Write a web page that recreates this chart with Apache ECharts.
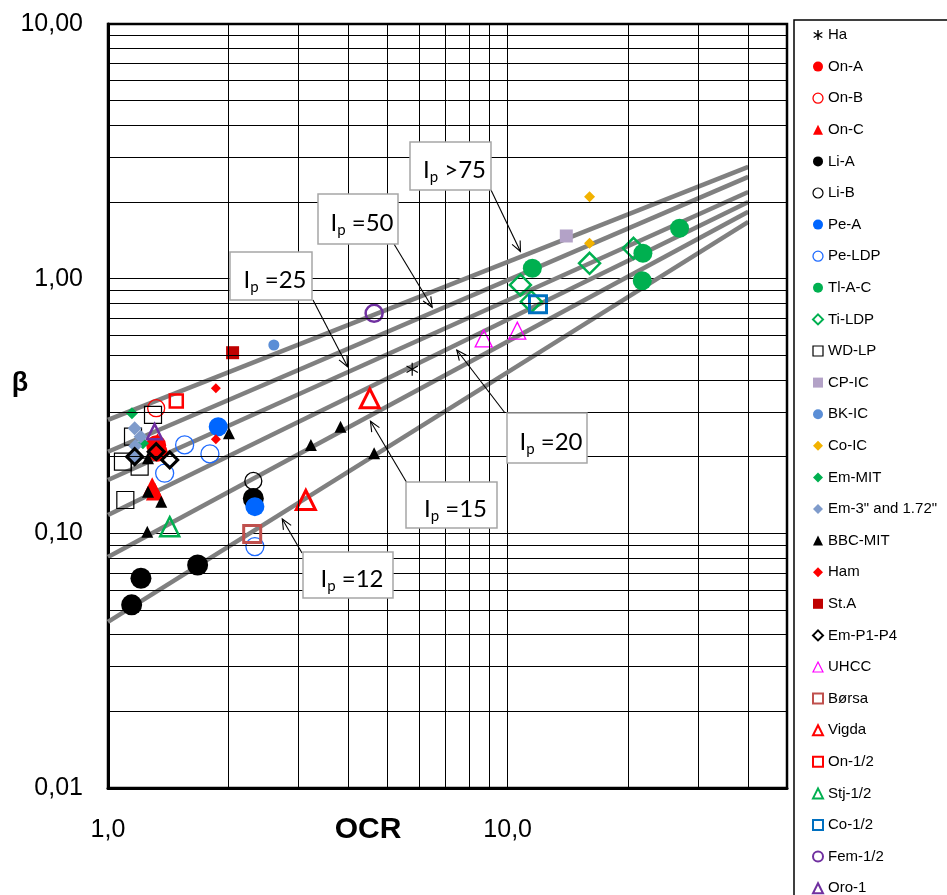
<!DOCTYPE html>
<html><head><meta charset="utf-8">
<script src="https://cdn.jsdelivr.net/npm/echarts@6/dist/echarts.min.js"></script>
<style>html,body{margin:0;padding:0;background:#fff}#c{width:947px;height:895px}</style>
</head><body><div id="c"></div>
<script>
// ---------------- DATA ----------------
// Ip trend lines (straight on log-log), beta at OCR = 1 and OCR = 40
const ipLineNames = ['Ip >75', 'Ip =50', 'Ip =25', 'Ip =20', 'Ip =15', 'Ip =12'];
const ipLineOCR = [1, 40];
const ipBetaAtStart = [0.279, 0.209, 0.162, 0.118, 0.0807, 0.0449];
const ipBetaAtEnd = [2.75, 2.51, 2.19, 2.00, 1.83, 1.67];
// OCR at which each annotation arrow meets its line
const ipArrowOCR = [10.9, 6.57, 4.03, 7.33, 4.47, 2.69];

// Measured points [OCR, beta]
const Ha = [[5.77, 0.441]];
const OnA = [[1.33, 0.209], [1.32, 0.222]];
const OnB = [[1.32, 0.310]];
const OnC = [[1.33, 0.228], [1.29, 0.153], [1.31, 0.146]];
const LiA = [[2.31, 0.137], [1.676, 0.0751], [1.209, 0.0666], [1.146, 0.0524]];
const LiB = [[2.31, 0.1606]];
const PeA = [[1.887, 0.2623], [2.331, 0.1273]];
const PeLDP = [[1.555, 0.2224], [1.799, 0.205], [1.386, 0.1722], [2.331, 0.0887]];
const TlAC = [[11.53, 1.099], [21.8, 1.258], [21.72, 0.982], [26.92, 1.578]];
const TiLDP = [[10.76, 0.945], [11.46, 0.812], [16.03, 1.149], [20.65, 1.316]];
const WDLP = [[1.296, 0.2917], [1.155, 0.2397], [1.09, 0.1912], [1.20, 0.1827], [1.105, 0.1352]];
const CPIC = [[14.02, 1.471]];
const BKIC = [[2.60, 0.549]];
const CoIC = [[16.03, 2.099], [16.03, 1.377]];
const EmMIT = [[1.148, 0.296], [1.223, 0.2258]];
const Em3 = [[1.166, 0.2586], [1.207, 0.2397], [1.17, 0.2204], [1.161, 0.200]];
const BBCMIT = [[2.007, 0.2472], [1.259, 0.1972], [1.259, 0.1458], [1.359, 0.1332], [1.254, 0.1015], [3.818, 0.2623], [3.218, 0.2224], [4.633, 0.2063]];
const Ham = [[1.862, 0.3713], [1.862, 0.2341]];
const StA = [[2.05, 0.512]];
const EmP1P4 = [[1.166, 0.200], [1.32, 0.2093], [1.427, 0.1942]];
const UHCC = [[8.71, 0.583], [10.57, 0.625]];
const Borsa = [[2.295, 0.0995]];
const Vigda = [[4.519, 0.339], [3.126, 0.1352]];
const On12 = [[1.482, 0.331]];
const Stj12 = [[1.427, 0.1062]];
const Co12 = [[11.91, 0.793]];
const Fem12 = [[4.633, 0.731]];
const Oro1 = [[1.308, 0.2508]];

const seriesNames = ['Ha', 'On-A', 'On-B', 'On-C', 'Li-A', 'Li-B', 'Pe-A', 'Pe-LDP', 'Tl-A-C', 'Ti-LDP', 'WD-LP', 'CP-IC', 'BK-IC', 'Co-IC', 'Em-MIT', 'Em-3" and 1.72"', 'BBC-MIT', 'Ham', 'St.A', 'Em-P1-P4', 'UHCC', 'Børsa', 'Vigda', 'On-1/2', 'Stj-1/2', 'Co-1/2', 'Fem-1/2', 'Oro-1'];
const seriesData = [Ha, OnA, OnB, OnC, LiA, LiB, PeA, PeLDP, TlAC, TiLDP, WDLP, CPIC, BKIC, CoIC, EmMIT, Em3, BBCMIT, Ham, StA, EmP1P4, UHCC, Borsa, Vigda, On12, Stj12, Co12, Fem12, Oro1];

const yTickLabels = { '0.01': '0,01', '0.1': '0,10', '1': '1,00', '10': '10,00' };
const xTickLabels = { '1': '1,0', '10': '10,0' };

// ---------------- STYLES ----------------
const ASTER = 'path://M0,-10L0,10M-8.66,-5L8.66,5M-8.66,5L8.66,-5';
const NONE = 'rgba(0,0,0,0)';
// [symbol, size, fill, stroke, borderWidth, legendBorderWidth]
const styles = {
  'Ha': [ASTER, 13, NONE, '#000', 1.2, 1.4],
  'On-A': ['circle', 20, '#FF0000', NONE, 0, 0],
  'On-B': ['circle', 17, NONE, '#FF0000', 1.3, 1.3],
  'On-C': ['triangle', 18, '#FF0000', NONE, 0, 0],
  'Li-A': ['circle', 21, '#000', NONE, 0, 0],
  'Li-B': ['circle', 17, NONE, '#000', 1.3, 1.2],
  'Pe-A': ['circle', 19, '#0066FF', NONE, 0, 0],
  'Pe-LDP': ['circle', 18, NONE, '#1F6BFF', 1.3, 1.3],
  'Tl-A-C': ['circle', 19, '#00B050', NONE, 0, 0],
  'Ti-LDP': ['diamond', 21, NONE, '#00B050', 2.5, 2],
  'WD-LP': ['rect', 17, NONE, '#000', 1.2, 1.2],
  'CP-IC': ['rect', 13, '#B3A2C7', NONE, 0, 0],
  'BK-IC': ['circle', 11, '#5B8ED6', NONE, 0, 0],
  'Co-IC': ['diamond', 11, '#F2B200', NONE, 0, 0],
  'Em-MIT': ['diamond', 12, '#00B050', NONE, 0, 0],
  'Em-3" and 1.72"': ['diamond', 14, '#7F9BCB', NONE, 0, 0],
  'BBC-MIT': ['triangle', 12, '#000', NONE, 0, 0],
  'Ham': ['diamond', 10, '#FF0000', NONE, 0, 0],
  'St.A': ['rect', 13, '#C00000', NONE, 0, 0],
  'Em-P1-P4': ['diamond', 16, NONE, '#000', 3, 2],
  'UHCC': ['triangle', 17, NONE, '#FF00FF', 1.3, 1.2],
  'Børsa': ['rect', 17, NONE, '#C0504D', 3, 2],
  'Vigda': ['triangle', 19, NONE, '#FF0000', 3, 2],
  'On-1/2': ['rect', 13, NONE, '#FF0000', 2.5, 2],
  'Stj-1/2': ['triangle', 19, NONE, '#00B050', 2.5, 2],
  'Co-1/2': ['rect', 17, NONE, '#0070C0', 3, 2],
  'Fem-1/2': ['circle', 17, NONE, '#7030A0', 2.5, 2],
  'Oro-1': ['triangle', 15, NONE, '#7030A0', 2.5, 2]
};

// annotation layout (pixels): box [x, y, w, h], arrow start [x, y]
const annLayout = [
  { box: [410, 142, 81, 48], from: [491, 190] },
  { box: [318, 194, 80, 50], from: [394, 244] },
  { box: [230, 252, 82, 48], from: [313, 300] },
  { box: [507, 413, 80, 50], from: [505, 413] },
  { box: [406, 482, 91, 46], from: [407, 483] },
  { box: [303, 552, 90, 46], from: [302, 553] }
];

// ---------------- CHART ----------------
const chart = echarts.init(document.getElementById('c'), null, { renderer: 'canvas' });
const FONT = '"Liberation Sans", Arial, sans-serif';

const xMinor = [];
[1, 10].forEach(d => { for (let k = 2; k <= 9; k++) { const v = k * d; if (v < 50) xMinor.push(v); } });
const yMinor = [];
[0.01, 0.1, 1].forEach(d => { for (let k = 2; k <= 9; k++) yMinor.push(+(k * d).toPrecision(3)); });

const series = [];
series.push({
  type: 'line', name: '_grid', data: [], silent: true, z: 1,
  markLine: {
    silent: true, symbol: 'none', label: { show: false }, animation: false,
    lineStyle: { color: '#000', width: 1, type: 'solid' },
    emphasis: { disabled: true },
    data: xMinor.map(v => ({ xAxis: v })).concat(yMinor.map(v => ({ yAxis: v })))
  }
});
ipLineNames.forEach((n, i) => {
  series.push({
    type: 'line', name: n, z: 2, silent: true, showSymbol: false, symbol: 'none',
    data: [[ipLineOCR[0], ipBetaAtStart[i]], [ipLineOCR[1], ipBetaAtEnd[i]]],
    lineStyle: { color: '#808080', width: 4.5 }
  });
});
const legendData = [];
seriesNames.forEach((n, i) => {
  const s = styles[n];
  series.push({
    type: 'scatter', name: n, z: 3, data: seriesData[i],
    symbol: s[0], symbolSize: s[1], symbolKeepAspect: true,
    itemStyle: { color: s[2], borderColor: s[3], borderWidth: s[4], opacity: 1 }
  });
  legendData.push({ name: n, itemStyle: { borderWidth: s[5] } });
});

const option = {
  animation: false,
  backgroundColor: '#fff',
  grid: { left: 108, top: 24, right: 160, bottom: 107, show: true, borderColor: '#000', borderWidth: 2.5, backgroundColor: 'transparent' },
  xAxis: {
    type: 'log', logBase: 10, min: 1, max: 50,
    axisLine: { show: true, onZero: false, lineStyle: { color: '#000', width: 3 } },
    axisTick: { show: false },
    splitLine: { show: true, lineStyle: { color: '#000', width: 1 } },
    axisLabel: {
      margin: 30, fontSize: 25, color: '#000', fontFamily: FONT,
      formatter: v => { const l = Math.log10(v); return Math.abs(l - Math.round(l)) < 1e-6 ? (xTickLabels[String(Math.round(Math.pow(10, Math.round(l))))] || '') : ''; }
    }
  },
  yAxis: {
    type: 'log', logBase: 10, min: 0.01, max: 10,
    axisLine: { show: true, onZero: false, lineStyle: { color: '#000', width: 3 } },
    axisTick: { show: false },
    splitLine: { show: true, lineStyle: { color: '#000', width: 1 } },
    axisLabel: {
      margin: 25, fontSize: 25, color: '#000', fontFamily: FONT,
      formatter: v => { const l = Math.round(Math.log10(v)); const key = String(+Math.pow(10, l).toPrecision(3)); return yTickLabels[key] || ''; }
    }
  },
  legend: {
    data: legendData, orient: 'vertical', left: 794, top: 20, height: 2000,
    padding: [7, 40, 10, 18], itemGap: 15.6, itemWidth: 10, itemHeight: 10,
    borderColor: '#000', borderWidth: 1.5, backgroundColor: '#fff',
    selectedMode: false,
    textStyle: { fontFamily: FONT, fontSize: 15, color: '#000', lineHeight: 16 }
  },
  series: series
};
chart.setOption(option);

// ---- annotations (boxes with arrows to Ip lines) and axis titles ----
const graphics = [];
annLayout.forEach((a, i) => {
  const ocr = ipArrowOCR[i];
  const t = (Math.log10(ocr) - Math.log10(ipLineOCR[0])) / (Math.log10(ipLineOCR[1]) - Math.log10(ipLineOCR[0]));
  const beta = Math.pow(10, Math.log10(ipBetaAtStart[i]) + t * (Math.log10(ipBetaAtEnd[i]) - Math.log10(ipBetaAtStart[i])));
  const tipRaw = chart.convertToPixel({ gridIndex: 0 }, [ocr, beta]);
  const fx = a.from[0], fy = a.from[1];
  let dx = tipRaw[0] - fx, dy = tipRaw[1] - fy;
  const len = Math.sqrt(dx * dx + dy * dy);
  dx /= len; dy /= len;
  const tip = [tipRaw[0] - dx * 5, tipRaw[1] - dy * 5];
  const hl = 11, ang = 0.42;
  const c = Math.cos(ang), s = Math.sin(ang);
  const h1 = [tip[0] - hl * (dx * c - dy * s), tip[1] - hl * (dy * c + dx * s)];
  const h2 = [tip[0] - hl * (dx * c + dy * s), tip[1] - hl * (dy * c - dx * s)];
  graphics.push({ type: 'line', z: 50, silent: true, shape: { x1: fx, y1: fy, x2: tip[0], y2: tip[1] }, style: { stroke: '#000', lineWidth: 1.1 } });
  graphics.push({ type: 'polyline', z: 50, silent: true, shape: { points: [h1, tip, h2] }, style: { stroke: '#000', lineWidth: 1.1, fill: null } });
  const b = a.box;
  graphics.push({ type: 'rect', z: 51, silent: true, shape: { x: b[0], y: b[1], width: b[2], height: b[3] }, style: { fill: '#fff', stroke: '#A6A6A6', lineWidth: 1.5 } });
  const rest = ipLineNames[i].slice(2);
  graphics.push({
    type: 'text', z: 52, silent: true, x: b[0] + b[2] / 2 + 4, y: b[1] + b[3] / 2 + 4,
    style: {
      text: '{a|I}{b|p}{a|' + rest + '}', align: 'center', verticalAlign: 'middle',
      rich: {
        a: { fontFamily: 'Lato, "Open Sans", sans-serif', fontSize: 24, lineHeight: 30, fill: '#000' },
        b: { fontFamily: 'Lato, "Open Sans", sans-serif', fontSize: 15, lineHeight: 22, verticalAlign: 'bottom', fill: '#000' }
      }
    }
  });
});
graphics.push({ type: 'text', silent: true, x: 368, y: 830, style: { text: 'OCR', fontFamily: FONT, fontWeight: 'bold', fontSize: 30, fill: '#000', align: 'center', verticalAlign: 'middle' } });
graphics.push({ type: 'text', silent: true, x: 20, y: 384, style: { text: 'β', fontFamily: FONT, fontWeight: 'bold', fontSize: 27, fill: '#000', align: 'center', verticalAlign: 'middle' } });
chart.setOption({ graphic: graphics });
</script></body></html>
